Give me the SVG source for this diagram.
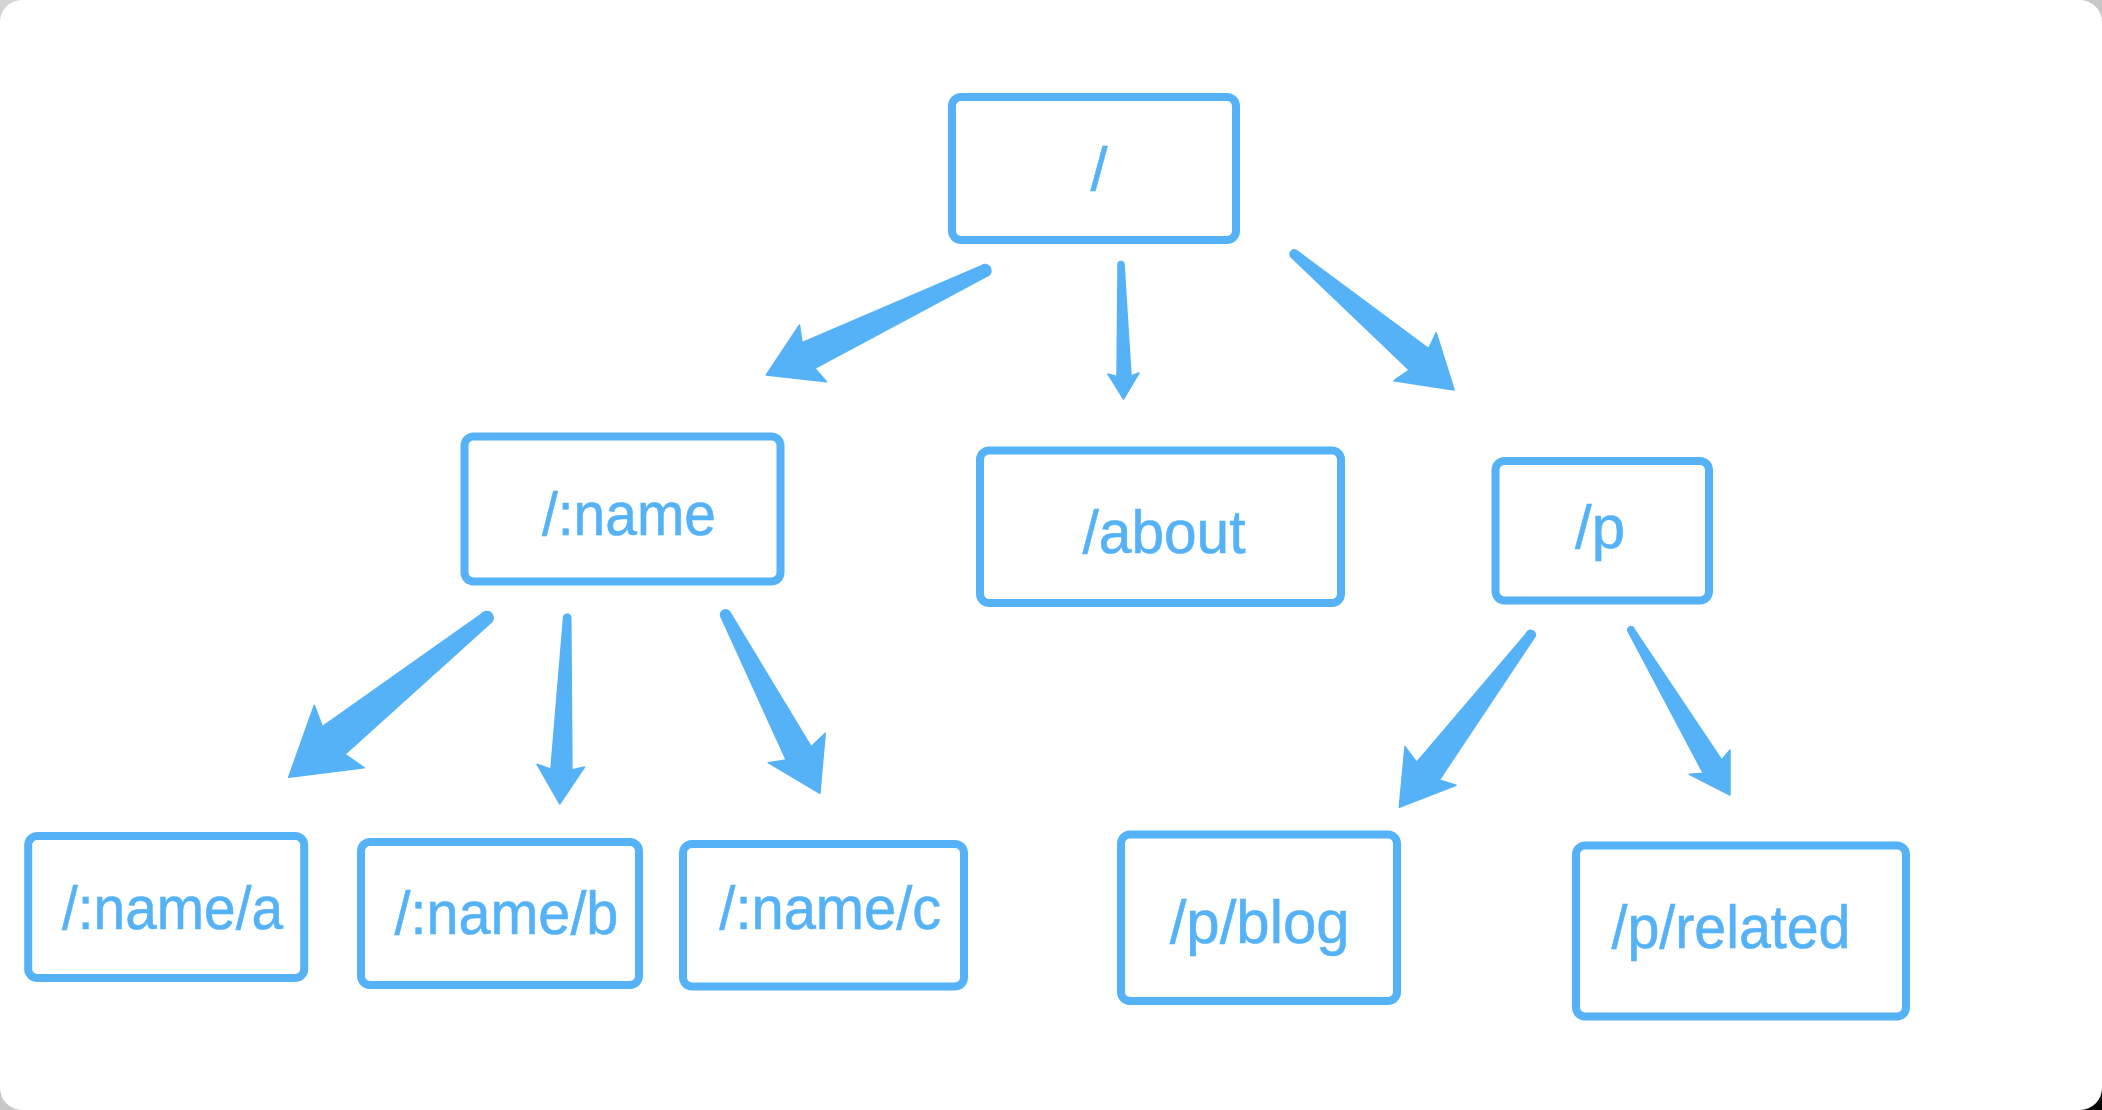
<svg xmlns="http://www.w3.org/2000/svg" width="2102" height="1110" viewBox="0 0 2102 1110">
<defs>
<linearGradient id="bg" x1="0" y1="0" x2="1" y2="1">
<stop offset="0" stop-color="#d4d4d4"/>
<stop offset="0.9" stop-color="#bdbdbd"/>
<stop offset="1" stop-color="#000000"/>
</linearGradient>
<style>
.box{fill:#ffffff;stroke:#55B2F7;stroke-width:8}
.lbl{font-family:"Liberation Sans",Arial,sans-serif;font-size:61px;fill:#55B2F7;stroke:#55B2F7;stroke-width:0.6;text-anchor:middle}
.arr{fill:#55B2F7;stroke:#55B2F7;stroke-width:1.5;stroke-linejoin:round}
</style>
</defs>
<rect x="0" y="0" width="2102" height="1110" fill="url(#bg)"/>
<rect x="0" y="0" width="2102" height="1110" rx="22" ry="22" fill="#ffffff"/>

<g id="node-root"><rect class="box" x="952" y="97" width="284" height="143" rx="9"/><text class="lbl" x="1099" y="190">/</text></g>
<g id="node-name"><rect class="box" x="464.5" y="436.5" width="316" height="145" rx="9"/><text class="lbl" x="629" y="535" textLength="174" lengthAdjust="spacingAndGlyphs">/:name</text></g>
<g id="node-about"><rect class="box" x="980" y="450.5" width="361" height="152.5" rx="9"/><text class="lbl" x="1164" y="553" textLength="163" lengthAdjust="spacingAndGlyphs">/about</text></g>
<g id="node-p"><rect class="box" x="1495.5" y="461" width="213.5" height="139.5" rx="9"/><text class="lbl" x="1600" y="548" textLength="50" lengthAdjust="spacingAndGlyphs">/p</text></g>
<g id="node-name-a"><rect class="box" x="28.2" y="836" width="276" height="142" rx="9"/><text class="lbl" x="172.5" y="929" textLength="221" lengthAdjust="spacingAndGlyphs">/:name/a</text></g>
<g id="node-name-b"><rect class="box" x="361" y="842" width="278" height="143" rx="9"/><text class="lbl" x="506.4" y="934" textLength="224" lengthAdjust="spacingAndGlyphs">/:name/b</text></g>
<g id="node-name-c"><rect class="box" x="683" y="844" width="281" height="142.5" rx="9"/><text class="lbl" x="830.3" y="929" textLength="222" lengthAdjust="spacingAndGlyphs">/:name/c</text></g>
<g id="node-p-blog"><rect class="box" x="1121" y="834.5" width="276" height="166.5" rx="9"/><text class="lbl" x="1259.7" y="943" textLength="180" lengthAdjust="spacingAndGlyphs">/p/blog</text></g>
<g id="node-p-related"><rect class="box" x="1576" y="845.5" width="330" height="171" rx="9"/><text class="lbl" x="1731" y="948" textLength="239" lengthAdjust="spacingAndGlyphs">/p/related</text></g>

<g id="connectors">
<path class="arr" d="M981,266 L802,342.7 L799.5,325 L766.3,375 L826.5,381.7 L814.8,368.3 L989,275 A1 1 0 0 0 981,266 Z"/>
<path class="arr" d="M1118,265 L1117,376.5 L1108,374 L1123.5,399 L1139,373 L1131,376 L1124,264 A1 1 0 0 0 1118,265 Z"/>
<path class="arr" d="M1290.8,256.7 L1409.2,370 L1393.9,380.7 L1454.1,390 L1436.2,332.7 L1428.6,348.7 L1298,251.7 A1 1 0 0 0 1290.8,256.7 Z"/>
<path class="arr" d="M481.5,614 L322.4,726.7 L314.3,705.3 L288.7,777.3 L364.1,767.7 L345,754.3 L491.9,621.7 A1 1 0 0 0 481.5,614 Z"/>
<path class="arr" d="M563.5,618.3 L550.9,769.3 L537.1,764.3 L559.7,804 L584.5,767 L571.9,770 L570.8,617.3 A1 1 0 0 0 563.5,618.3 Z"/>
<path class="arr" d="M721.2,617.3 L786.2,760 L768.2,762.7 L819.9,793.3 L825.2,733.3 L811.1,746.7 L730,612.3 A1 1 0 0 0 721.2,617.3 Z"/>
<path class="arr" d="M1526,634 L1416.7,762.3 L1405,746.7 L1399.3,807.3 L1456,785.3 L1439.3,780 L1535.3,636 A1 1 0 0 0 1526,634 Z"/>
<path class="arr" d="M1627.7,630.7 L1703.3,773.3 L1689.3,774.3 L1730,795 L1730,750 L1721.7,760 L1634.3,629.3 A1 1 0 0 0 1627.7,630.7 Z"/>
</g>
</svg>
